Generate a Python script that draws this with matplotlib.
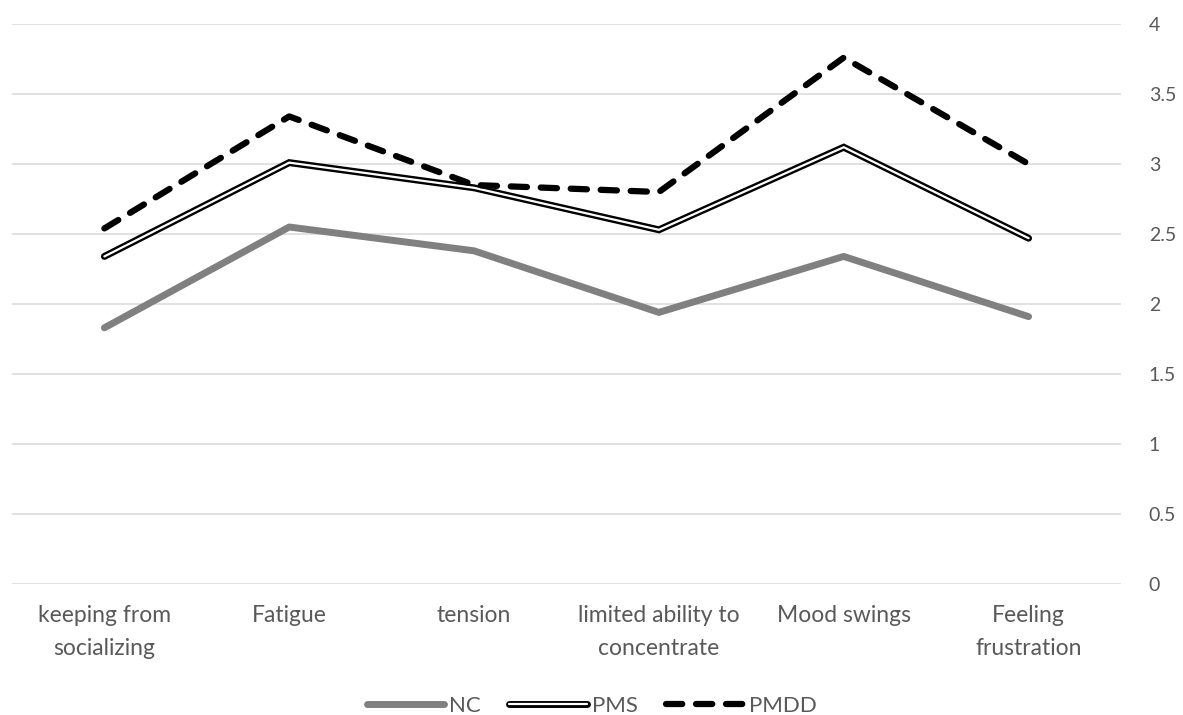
#!/usr/bin/env python3
"""Symptom severity by group (NC / PMS / PMDD), line chart with right-hand axis."""
import matplotlib
matplotlib.use("Agg")
import matplotlib.pyplot as plt
import matplotlib.patheffects as pe

categories = ["keeping from\nsocializing", "Fatigue", "tension",
              "limited ability to\nconcentrate", "Mood swings", "Feeling\nfrustration"]
nc = [1.83, 2.55, 2.38, 1.94, 2.34, 1.91]
pms = [2.34, 3.01, 2.83, 2.53, 3.12, 2.47]
pmdd = [2.54, 3.34, 2.85, 2.80, 3.76, 3.00]
yticks = [0, 0.5, 1, 1.5, 2, 2.5, 3, 3.5, 4]

plt.rcParams["font.family"] = ["Lato", "DejaVu Sans"]
TXT = "#595959"

fig = plt.figure(figsize=(11.83, 7.15), dpi=100)
ax = fig.add_axes([0.0101, 0.1832, 0.9375, 0.7832])

x = list(range(len(categories)))
ax.plot(x, nc, color="#808080", lw=5, solid_capstyle="round",
        solid_joinstyle="round", label="NC", zorder=3)
ax.plot(x, pms, color="white", lw=1.6, solid_capstyle="round",
        solid_joinstyle="miter", label="PMS", zorder=4,
        path_effects=[pe.Stroke(linewidth=5, foreground="black"), pe.Normal()])
ax.plot(x, pmdd, color="black", lw=4.5, dashes=(2.6, 2.2),
        dash_capstyle="round", label="PMDD", zorder=5)

ax.set_xlim(-0.5, len(categories) - 0.5)
ax.set_ylim(0, 4)
ax.set_yticks(yticks)
ax.set_yticklabels([f"{v:g}" for v in yticks])
ax.yaxis.tick_right()
ax.tick_params(axis="y", length=0, pad=20, labelsize=14, labelcolor=TXT)
ax.set_xticks(x)
ax.set_xticklabels(categories, linespacing=1.7)
ax.tick_params(axis="x", length=0, pad=15, labelsize=16.5, labelcolor=TXT)
for t in ax.get_yticklabels():
    t.set_horizontalalignment("left")
ax.grid(axis="y", color="#d9d9d9", lw=1.1)
ax.set_axisbelow(True)
for s in ax.spines.values():
    s.set_visible(False)

handles, labels = ax.get_legend_handles_labels()
leg = fig.legend(handles, labels, loc="center", bbox_to_anchor=(0.5, 1 - 706 / 715),
                 ncol=3, frameon=False, fontsize=16, handlelength=3.5,
                 handletextpad=0.2, columnspacing=1.3)
for t in leg.get_texts():
    t.set_color(TXT)

fig.savefig("out.png", dpi=100)
